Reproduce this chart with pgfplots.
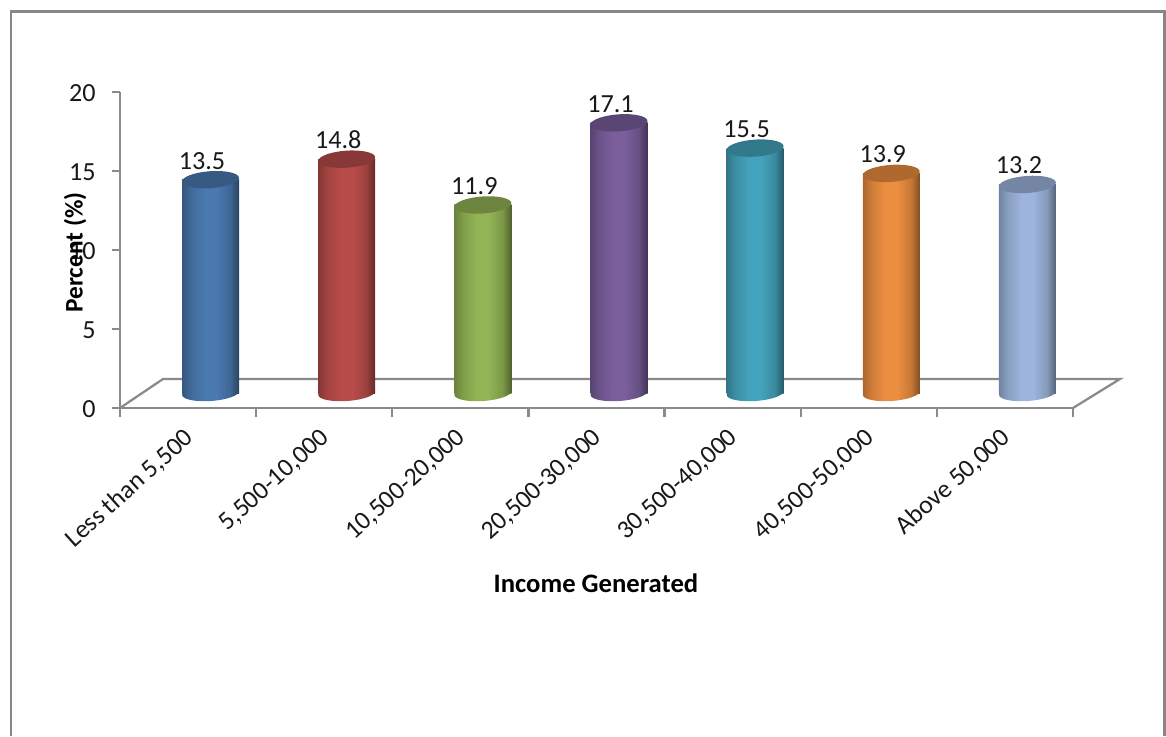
\documentclass[border=0pt]{standalone}
\usepackage{pgfplots}
\pgfplotsset{compat=1.18}
\usepackage{fontspec}
\setmainfont{Carlito}
\usetikzlibrary{shapes.geometric}

\definecolor{axisgray}{HTML}{8A8A8A}
\definecolor{framegray}{HTML}{878787}
\definecolor{cblue}{HTML}{4A79B0}
\definecolor{cred}{HTML}{B84C49}
\definecolor{cgreen}{HTML}{93B455}
\definecolor{cpurple}{HTML}{7A5F9C}
\definecolor{caqua}{HTML}{44A3BC}
\definecolor{corange}{HTML}{EC8E40}
\definecolor{clight}{HTML}{9DB5DC}

% Rounded-body shading: dark rims with a lighter band near the middle
\newcommand{\declarecyl}[1]{%
  \pgfdeclarehorizontalshading{cyl#1}{100bp}{%
    color(0bp)=(#1!72!black);
    color(25bp)=(#1!72!black);
    color(33bp)=(#1!88!black);
    color(45bp)=(#1);
    color(55bp)=(#1);
    color(67bp)=(#1!85!black);
    color(75bp)=(#1!55!black);
    color(100bp)=(#1!55!black)}}
\declarecyl{cblue}\declarecyl{cred}\declarecyl{cgreen}\declarecyl{cpurple}
\declarecyl{caqua}\declarecyl{corange}\declarecyl{clight}

% One cylinder: base cap, body, top cap. Arguments: position, value, colour.
\newcommand{\cyl}[3]{%
  \addplot[draw=none, mark=none, forget plot, xshift=16.875pt, yshift=11.25pt,
    nodes near coords={\phantom{.}},
    every node near coord/.style={shape=ellipse, inner sep=0pt, rotate=4,
      minimum width=42.75pt, minimum height=12pt, anchor=center,
      shading=cyl#3}]
    coordinates {(#1,0)};
  \addplot[ybar, bar width=42.75pt, bar shift=0pt, draw=none, forget plot,
    xshift=16.875pt, yshift=11.25pt, shading=cyl#3]
    coordinates {(#1,#2)};
  \addplot[draw=none, mark=none, forget plot, xshift=16.875pt, yshift=11.25pt,
    nodes near coords={\phantom{.}},
    every node near coord/.style={shape=ellipse, inner sep=0pt, rotate=4,
      minimum width=42.75pt, minimum height=12.75pt, anchor=center,
      fill=#3!74!black}]
    coordinates {(#1,#2)};
  \addplot[draw=none, mark=none, forget plot,
    nodes near coords={\pgfmathprintnumber[fixed,fixed zerofill,precision=1]{\pgfplotspointmeta}},
    every node near coord/.style={inner sep=0pt, anchor=center, xshift=10.5pt,
      yshift=25.5pt, text=black!90, font=\fontsize{19.6pt}{21pt}\selectfont,
      /pgf/number format/assume math mode=true}]
    coordinates {(#1,#2)};
}

\begin{document}
\begin{tikzpicture}[x=0.75pt,y=0.75pt]
  \useasboundingbox (0,0) rectangle (1166,736);
  % Open-bottomed outer frame
  \draw[framegray, line width=2.2pt] (11,0) -- (11,724.7) -- (1164.6,724.7) -- (1164.6,0);
  \begin{axis}[
    at={(90pt,246pt)}, anchor=south west,
    scale only axis, width=714.75pt, height=237pt,
    xmin=0, xmax=7, ymin=0, ymax=20,
    clip=false,
    axis x line=bottom, axis y line=left,
    axis line style={-, axisgray, line width=1.7pt},
    tick style={axisgray, line width=1.7pt},
    tick align=outside,
    xtick={0.5,1.5,2.5,3.5,4.5,5.5,6.5},
    xticklabels={{Less than 5,500}, {5,500-10,000}, {10,500-20,000}, {20,500-30,000}, {30,500-40,000}, {40,500-50,000}, {Above 50,000}},
    major x tick style={draw=none},
    minor xtick={0,1,2,3,4,5,6,7},
    minor tick length=6.75pt,
    ytick={0,5,10,15,20},
    major tick length=6pt,
    xticklabel style={rotate=42, anchor=east, inner sep=0pt, xshift=-8.2pt, yshift=-11pt,
      text=black!90, font=\fontsize{19.3pt}{21pt}\selectfont},
    yticklabel style={anchor=east, inner sep=0pt, xshift=-12pt, yshift=-0.7pt,
      text=black!90, font=\fontsize{19.6pt}{21pt}\selectfont},
    /pgf/number format/assume math mode=true,
    xlabel={Income Generated},
    ylabel={Percent (\%)},
    every axis x label/.style={at={(axis description cs:0.4995,-0.554)}, anchor=center,
      font=\fontsize{20pt}{22pt}\selectfont\bfseries},
    every axis y label/.style={at={(axis description cs:-0.047,0.492)}, anchor=center, rotate=90,
      font=\fontsize{19pt}{21pt}\selectfont\bfseries},
  ]
    % Floor of the chart box
    \addplot[axisgray, line width=1.7pt, mark=none, forget plot]
      coordinates {(0,0) (0.316,1.835) (7.345,1.835) (7,0)};
    \cyl{0.5}{13.5}{cblue}
    \cyl{1.5}{14.8}{cred}
    \cyl{2.5}{11.9}{cgreen}
    \cyl{3.5}{17.1}{cpurple}
    \cyl{4.5}{15.5}{caqua}
    \cyl{5.5}{13.9}{corange}
    \cyl{6.5}{13.2}{clight}
  \end{axis}
\end{tikzpicture}
\end{document}
